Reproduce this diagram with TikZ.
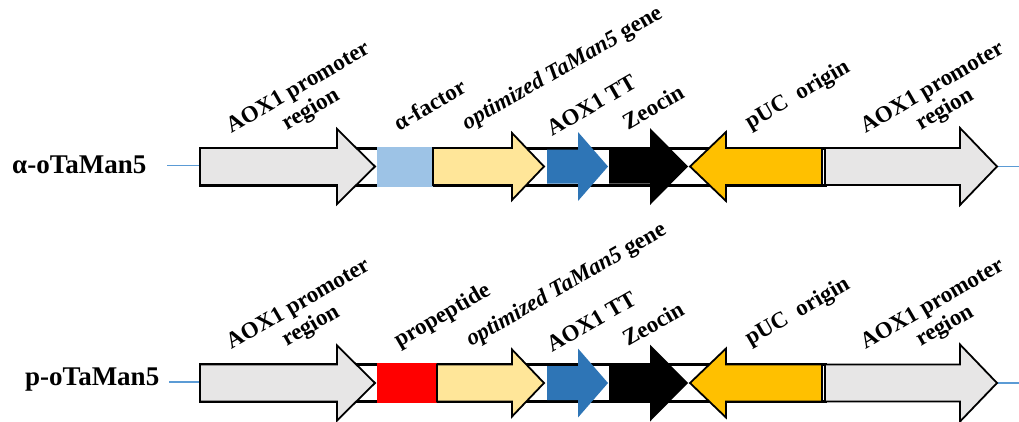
\documentclass[tikz,border=0pt]{standalone}
\usepackage{fontspec}
\setmainfont{Liberation Serif}

\definecolor{promgrey}{HTML}{E7E6E6}
\definecolor{alphablue}{HTML}{9DC3E6}
\definecolor{geneyellow}{HTML}{FFE699}
\definecolor{ttblue}{HTML}{2E75B6}
\definecolor{pucorange}{HTML}{FFC000}
\definecolor{linkblue}{HTML}{5B9BD5}

\tikzset{
  backbone/.style={draw=black, fill=white, line width=3pt},
  part/.style={draw=black, line width=1.8pt, line join=miter},
  lbl/.style={font=\fontsize{23}{25}\selectfont\bfseries, rotate=30, inner sep=0pt},
  rowlbl/.style={font=\fontsize{27}{30}\selectfont\bfseries, inner sep=0pt},
  link/.style={draw=linkblue, line width=1.5pt}
}

\begin{document}
\begin{tikzpicture}[x=1pt, y=-1pt]
\useasboundingbox (0,0) rectangle (1019,421);

% one row per construct
\foreach \r/\ry/\rname/\rx/\rb/\sigcol/\sigend/\siglab/\lnx in
  {1/166.5/α-oTaMan5/12/6.5/alphablue/433/α-factor/167,
   2/383/p-oTaMan5/25/2/red/437/propeptide/169}{
\begin{scope}[shift={(0,\ry)}]
\node[rowlbl, anchor=base west] (row\r) at (\rx,\rb) {\rname};
\coordinate (lnL\r) at (\lnx,-1);
\coordinate (bbL\r) at (200,-1);
\coordinate (bbR\r) at (997,0);
\coordinate (lnR\r) at (1019,0);
\draw[link] (lnL\r) -- (bbL\r);
\draw[link] (bbR\r) -- (lnR\r);

% backbone
\draw[backbone] (200,-18.5) rectangle (825,18.5);

% AOX1 promoter
\filldraw[part, fill=promgrey] (200,-18.5) -- (337,-18.5) -- (337,-37.5) -- (375,0)
  -- (337,37.5) -- (337,18.5) -- (200,18.5) -- cycle;
% signal sequence
\fill[\sigcol] (377,-20) rectangle (\sigend,20);
% gene
\filldraw[part, fill=geneyellow] (\sigend,-18.5) -- (512,-18.5) -- (512,-33.5) -- (544,0)
  -- (512,33.5) -- (512,18.5) -- (\sigend,18.5) -- cycle;
% AOX1 TT
\fill[ttblue] (547,-17) -- (578,-17) -- (578,-34.5) -- (608,0)
  -- (578,34.5) -- (578,17) -- (547,17) -- cycle;
% Zeocin
\fill[black] (609,-17) -- (650,-17) -- (650,-38.5) -- (688,0)
  -- (650,38.5) -- (650,17) -- (609,17) -- cycle;
% pUC origin
\filldraw[part, fill=pucorange] (822,-18.5) -- (726,-18.5) -- (726,-34.5) -- (690,0)
  -- (726,34.5) -- (726,18.5) -- (822,18.5) -- cycle;
% AOX1 promoter
\filldraw[part, fill=promgrey] (825,-18.5) -- (960,-18.5) -- (960,-38.5) -- (997,0)
  -- (960,38.5) -- (960,18.5) -- (825,18.5) -- cycle;

% labels
\node[lbl, align=center] (promL\r) at (305,-67) {AOX1 promoter\\region};
\node[lbl, anchor=base west] (sig\r) at (399,-35) {\siglab};
\node[lbl, anchor=base west] (gene\r) at (\sigend+34,-36) {\textit{optimized TaMan5} gene};
\node[lbl, anchor=base west] (tt\r) at (552,-30) {AOX1 TT};
\node[lbl, anchor=base west] (zeo\r) at (628,-36) {Zeocin};
\node[lbl, anchor=base west] (puc\r) at (750,-37) {pUC\ \ origin};
\node[lbl, align=center] (promR\r) at (939,-67) {AOX1 promoter\\region};
\end{scope}
}
\end{tikzpicture}
\end{document}
